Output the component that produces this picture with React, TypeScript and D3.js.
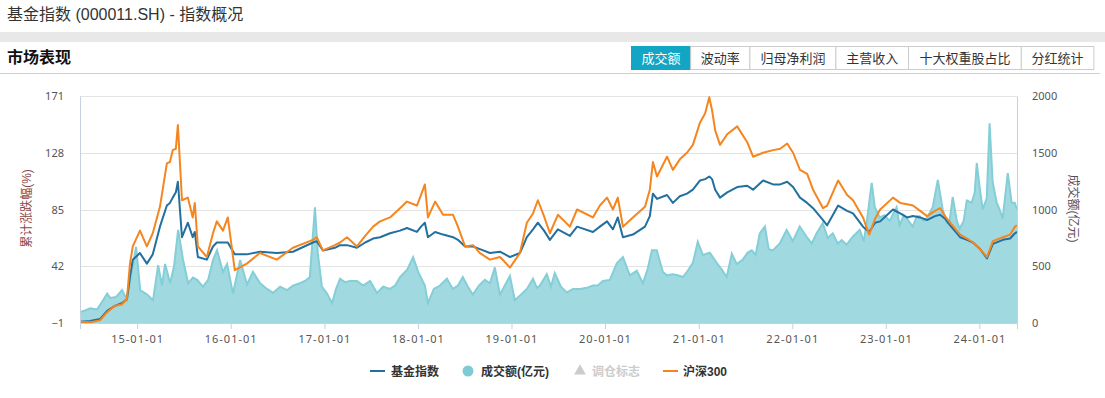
import React, { useEffect, useRef } from 'react';
import * as d3 from 'd3';

// 累计涨跌幅 (%) — 基金指数 / 沪深300
const lineDates = [
  '2014-05-23', '2014-07-01', '2014-08-09', '2014-09-05', '2014-10-06', '2014-11-02', '2014-11-22', '2014-12-04',
  '2014-12-15', '2015-01-12', '2015-02-08', '2015-03-03', '2015-03-31', '2015-04-27', '2015-05-09', '2015-05-20',
  '2015-06-01', '2015-06-09', '2015-06-25', '2015-07-18', '2015-08-06', '2015-08-14', '2015-08-26', '2015-09-30',
  '2015-10-24', '2015-11-08', '2015-12-02', '2015-12-21', '2016-01-17', '2016-03-04', '2016-04-24', '2016-06-29',
  '2016-08-31', '2016-11-17', '2016-12-02', '2016-12-26', '2017-02-11', '2017-03-03', '2017-03-30', '2017-05-08',
  '2017-06-09', '2017-07-10', '2017-08-06', '2017-09-14', '2017-10-23', '2017-11-19', '2017-12-28', '2018-01-13',
  '2018-01-28', '2018-02-09', '2018-03-09', '2018-04-09', '2018-05-18', '2018-06-06', '2018-07-04', '2018-08-04',
  '2018-08-31', '2018-10-09', '2018-11-17', '2018-12-07', '2018-12-26', '2019-02-03', '2019-03-02', '2019-03-26',
  '2019-04-14', '2019-05-08', '2019-05-31', '2019-07-01', '2019-08-17', '2019-09-14', '2019-11-15', '2019-12-12',
  '2020-01-09', '2020-02-01', '2020-02-20', '2020-03-11', '2020-04-19', '2020-06-05', '2020-06-24', '2020-07-06',
  '2020-07-22', '2020-08-30', '2020-09-22', '2020-10-19', '2020-11-16', '2020-12-09', '2021-01-06', '2021-01-26',
  '2021-02-11', '2021-02-22', '2021-03-06', '2021-03-25', '2021-04-22', '2021-05-31', '2021-07-09', '2021-08-01',
  '2021-09-09', '2021-10-18', '2021-11-15', '2021-12-12', '2022-01-04', '2022-01-31', '2022-02-28', '2022-03-23',
  '2022-05-01', '2022-05-17', '2022-06-29', '2022-08-03', '2022-08-26', '2022-10-04', '2022-10-28', '2022-11-20',
  '2022-12-10', '2023-01-29', '2023-02-26', '2023-03-25', '2023-04-17', '2023-05-15', '2023-06-11', '2023-07-12',
  '2023-08-01', '2023-08-20', '2023-09-09', '2023-10-18', '2023-11-14', '2023-12-07', '2024-01-04', '2024-01-31',
  '2024-02-23', '2024-04-02', '2024-04-30', '2024-05-19', '2024-05-27',
];

const fundIndex = [
  0, 0.5, 2, 8, 12, 14, 17, 34,
  47, 52, 44, 51, 72, 88, 90, 94,
  98, 106, 64, 75, 64, 68, 49, 47,
  57, 60, 60, 60, 51, 51, 53, 52,
  53, 60, 61, 54, 56, 58, 58, 56,
  60, 63, 64, 67, 69, 71, 68, 72,
  75, 64, 68, 66, 64, 62, 57, 57,
  55, 52, 53, 51, 49, 52, 64, 70,
  75, 69, 62, 70, 65, 72, 68, 72,
  76, 70, 79, 64, 66, 72, 80, 97,
  93, 96, 90, 95, 97, 100, 107, 108,
  110, 108, 100, 94, 98, 102, 103, 100,
  107, 104, 104, 106, 102, 94, 90, 86,
  77, 73, 88, 84, 82, 72, 68, 75,
  76, 85, 82, 79, 80, 79, 77, 80,
  81, 78, 73, 64, 62, 60, 55, 48,
  59, 62, 63, 67, 68,
];

const hs300 = [
  0, -0.5, 1, 7, 12, 13, 17, 44,
  57, 69, 57, 67, 87, 120, 121, 130,
  131, 149, 92, 94, 79, 90, 57, 49,
  67, 76, 69, 79, 39, 44, 52, 47,
  56, 62, 64, 54, 58, 60, 64, 57,
  65, 72, 76, 79, 86, 91, 88, 96,
  104, 79, 91, 81, 81, 72, 57, 58,
  52, 47, 49, 45, 41, 52, 75, 82,
  92, 80, 67, 81, 72, 85, 79, 88,
  94, 85, 94, 72, 79, 87, 100, 121,
  110, 125, 115, 123, 128, 134, 151, 158,
  170, 160, 145, 134, 142, 148, 136, 125,
  128, 130, 131, 135, 128, 115, 112, 100,
  86, 88, 107, 96, 92, 79, 66, 78,
  85, 94, 90, 89, 88, 84, 80, 84,
  86, 80, 75, 66, 63, 60, 55, 49,
  61, 64, 66, 72, 73,
];

// 成交额 (亿元)
const volDates = [
  '2014-05-23', '2014-06-12', '2014-07-02', '2014-07-29', '2014-08-21', '2014-09-06', '2014-09-18', '2014-10-11',
  '2014-11-03', '2014-11-23', '2014-12-12', '2014-12-28', '2015-01-13', '2015-02-09', '2015-03-04', '2015-03-24',
  '2015-04-08', '2015-04-20', '2015-05-10', '2015-05-25', '2015-06-10', '2015-06-29', '2015-07-19', '2015-08-07',
  '2015-08-23', '2015-09-15', '2015-10-05', '2015-10-24', '2015-11-09', '2015-12-02', '2015-12-18', '2016-01-10',
  '2016-02-07', '2016-03-05', '2016-03-28', '2016-04-25', '2016-05-22', '2016-06-14', '2016-07-12', '2016-08-08',
  '2016-08-31', '2016-09-27', '2016-10-17', '2016-11-05', '2016-11-25', '2016-12-06', '2016-12-22', '2017-01-11',
  '2017-01-31', '2017-02-15', '2017-03-03', '2017-03-22', '2017-04-11', '2017-05-08', '2017-06-01', '2017-06-28',
  '2017-07-25', '2017-08-18', '2017-09-14', '2017-10-04', '2017-10-23', '2017-11-20', '2017-12-13', '2018-01-02',
  '2018-01-28', '2018-02-09', '2018-03-04', '2018-03-28', '2018-04-24', '2018-05-17', '2018-06-06', '2018-06-25',
  '2018-07-15', '2018-08-03', '2018-08-27', '2018-09-19', '2018-10-09', '2018-10-28', '2018-11-17', '2018-12-06',
  '2018-12-26', '2019-01-14', '2019-02-07', '2019-03-02', '2019-03-26', '2019-04-10', '2019-04-22', '2019-05-19',
  '2019-06-04', '2019-06-19', '2019-07-13', '2019-08-05', '2019-08-29', '2019-09-25', '2019-10-22', '2019-11-15',
  '2019-12-04', '2019-12-24', '2020-01-20', '2020-02-16', '2020-03-11', '2020-04-07', '2020-05-04', '2020-05-28',
  '2020-06-16', '2020-07-02', '2020-07-21', '2020-08-14', '2020-08-29', '2020-09-22', '2020-10-11', '2020-10-31',
  '2020-11-19', '2020-12-09', '2020-12-28', '2021-01-17', '2021-02-13', '2021-03-12', '2021-04-01', '2021-04-20',
  '2021-05-10', '2021-05-29', '2021-06-22', '2021-07-11', '2021-07-27', '2021-08-11', '2021-08-27', '2021-09-16',
  '2021-10-01', '2021-10-17', '2021-11-13', '2021-12-10', '2022-01-03', '2022-01-30', '2022-02-26', '2022-03-18',
  '2022-04-06', '2022-04-30', '2022-05-19', '2022-06-08', '2022-06-27', '2022-07-13', '2022-08-01', '2022-08-25',
  '2022-09-21', '2022-10-07', '2022-10-18', '2022-11-07', '2022-11-19', '2022-12-08', '2022-12-27', '2023-01-16',
  '2023-02-12', '2023-02-24', '2023-03-12', '2023-03-24', '2023-04-16', '2023-05-02', '2023-05-13', '2023-05-29',
  '2023-06-10', '2023-07-03', '2023-07-23', '2023-08-11', '2023-08-27', '2023-09-07', '2023-09-19', '2023-10-05',
  '2023-10-16', '2023-11-01', '2023-11-13', '2023-12-02', '2023-12-14', '2023-12-22', '2024-01-02', '2024-01-14',
  '2024-01-30', '2024-02-10', '2024-02-22', '2024-03-09', '2024-03-20', '2024-04-01', '2024-04-21', '2024-05-06',
  '2024-05-18', '2024-05-27',
];

const volume = [
  97, 110, 130, 120, 200, 260, 220, 230,
  290, 200, 470, 670, 290, 250, 200, 510,
  330, 520, 350, 500, 820, 560, 350, 400,
  380, 320, 380, 555, 640, 450, 520, 260,
  555, 340, 450, 350, 300, 265, 320, 290,
  330, 350, 370, 405, 1020, 620, 320, 260,
  175, 300, 390, 360, 370, 370, 330, 370,
  265, 320, 300, 330, 405, 470, 580, 450,
  330, 175, 300, 330, 390, 300, 330, 405,
  320, 250, 330, 380, 350, 490, 250, 330,
  415, 200, 250, 300, 390, 310, 330, 430,
  320, 440, 320, 270, 300, 300, 310, 330,
  330, 370, 380, 525, 580, 420, 460, 350,
  480, 640, 640, 450, 420, 430, 420, 405,
  460, 530, 715, 600, 620, 530, 470, 405,
  610, 520, 560, 620, 640, 600, 790, 850,
  650, 640, 700, 820, 720, 850, 760, 700,
  790, 880, 750, 790, 700, 730, 690, 760,
  820, 720, 880, 1235, 1020, 930, 950, 900,
  1020, 860, 950, 920, 850, 940, 940, 900,
  920, 1020, 1260, 1000, 880, 900, 1110, 900,
  830, 900, 1080, 1060, 1150, 1410, 1200, 1000,
  1100, 1760, 1240, 1060, 1000, 920, 1320, 1060,
  1060, 1000,
];

const leftTicks = [-1, 42, 85, 128, 171];
const rightTicks = [0, 500, 1000, 1500, 2000];
const tabs = ['成交额', '波动率', '归母净利润', '主营收入', '十大权重股占比', '分红统计'];

const BLUE = '#22709e';
const ORANGE = '#f5851f';
const TEAL_FILL = '#a1d9e1';
const TEAL_LINE = '#84ced7';
const CJK = "'Liberation Sans', 'Noto Sans CJK SC', sans-serif";

const App = () => {
  const ref = useRef<SVGSVGElement>(null);

  useEffect(() => {
    const width = 1105;
    const height = 398;
    const margin = { top: 96, right: 88, bottom: 75, left: 80 };
    const plotW = width - margin.left - margin.right;
    const plotH = height - margin.top - margin.bottom;

    const svg = d3.select(ref.current);
    svg.selectAll('*').remove();

    // page header
    svg.append('text').attr('x', 7).attr('y', 20)
      .attr('font-family', CJK).attr('font-size', 16).attr('fill', '#333')
      .text('基金指数 (000011.SH) - 指数概况');
    svg.append('rect').attr('x', 0).attr('y', 32).attr('width', width).attr('height', 10).attr('fill', '#e8e8e8');
    svg.append('text').attr('x', 7).attr('y', 63)
      .attr('font-family', CJK).attr('font-size', 16).attr('font-weight', 'bold').attr('fill', '#111')
      .text('市场表现');
    svg.append('line').attr('x1', 0).attr('x2', 1100).attr('y1', 73.5).attr('y2', 73.5)
      .attr('stroke', '#cfcfcf');

    // tabs
    let tx = 631;
    tabs.forEach((t, i) => {
      const w = t.length * 13.4 + 19;
      const g = svg.append('g').attr('transform', `translate(${tx},46)`);
      g.append('rect').attr('x', 0.5).attr('y', 0.5).attr('width', w).attr('height', 23)
        .attr('fill', i === 0 ? '#13a5c4' : '#fff').attr('stroke', i === 0 ? '#13a5c4' : '#cccccc');
      g.append('text').attr('x', w / 2 + 0.5).attr('y', 17).attr('text-anchor', 'middle')
        .attr('font-family', CJK).attr('font-size', 13)
        .attr('fill', i === 0 ? '#fff' : '#333').text(t);
      tx += w;
    });

    const parse = d3.timeParse('%Y-%m-%d');
    const lineData = lineDates.map((d, i) => ({ date: parse(d)!, fund: fundIndex[i], hs: hs300[i] }));
    const volData = volDates.map((d, i) => ({ date: parse(d)!, v: volume[i] }));

    const x = d3.scaleTime()
      .domain([parse('2014-05-23')!, parse('2024-05-27')!])
      .range([margin.left, margin.left + plotW]);
    const yL = d3.scaleLinear().domain([-1, 171]).range([margin.top + plotH, margin.top]);
    const yR = d3.scaleLinear().domain([0, 2000]).range([margin.top + plotH, margin.top]);

    svg.append('clipPath').attr('id', 'plot-clip').append('rect')
      .attr('x', margin.left).attr('y', margin.top - 2).attr('width', plotW).attr('height', plotH + 2);

    // grid lines
    svg.append('g').selectAll('line').data(leftTicks).enter().append('line')
      .attr('x1', margin.left).attr('x2', margin.left + plotW)
      .attr('y1', d => Math.round(yL(d)) + 0.5).attr('y2', d => Math.round(yL(d)) + 0.5)
      .attr('stroke', '#e3e3e3');

    const plot = svg.append('g').attr('clip-path', 'url(#plot-clip)');

    // volume area
    const area = d3.area<{ date: Date; v: number }>()
      .x(d => x(d.date)).y0(yR(0)).y1(d => yR(d.v));
    plot.append('path').datum(volData).attr('d', area).attr('fill', TEAL_FILL);
    const volLine = d3.line<{ date: Date; v: number }>().x(d => x(d.date)).y(d => yR(d.v));
    plot.append('path').datum(volData).attr('d', volLine)
      .attr('fill', 'none').attr('stroke', TEAL_LINE).attr('stroke-width', 2);

    const lineFund = d3.line<{ date: Date; fund: number; hs: number }>()
      .x(d => x(d.date)).y(d => yL(d.fund));
    const lineHs = d3.line<{ date: Date; fund: number; hs: number }>()
      .x(d => x(d.date)).y(d => yL(d.hs));
    plot.append('path').datum(lineData).attr('d', lineFund)
      .attr('fill', 'none').attr('stroke', BLUE).attr('stroke-width', 2).attr('stroke-linejoin', 'round');
    plot.append('path').datum(lineData).attr('d', lineHs)
      .attr('fill', 'none').attr('stroke', ORANGE).attr('stroke-width', 2).attr('stroke-linejoin', 'round');

    // axes
    const axisColor = '#c6d1e0';
    const xAxis = svg.append('g').attr('transform', `translate(0,${margin.top + plotH})`)
      .call(d3.axisBottom(x).ticks(d3.timeYear.every(1)).tickFormat(d3.timeFormat('%y-%m-%d') as any)
        .tickSize(6).tickPadding(6));
    xAxis.select('.domain').attr('stroke', axisColor);
    xAxis.selectAll('.tick line').attr('stroke', axisColor);
    xAxis.selectAll('.tick text').attr('fill', '#555').attr('font-size', 11)
      .attr('font-family', "'Noto Sans', sans-serif").attr('letter-spacing', 1);

    const lAxis = svg.append('g').attr('transform', `translate(${margin.left},0)`)
      .call(d3.axisLeft(yL).tickValues(leftTicks).tickSize(0).tickPadding(16));
    lAxis.select('.domain').attr('stroke', axisColor);
    lAxis.selectAll('.tick text').attr('fill', '#555').attr('font-size', 11)
      .attr('font-family', "'Noto Sans', sans-serif");

    const rAxis = svg.append('g').attr('transform', `translate(${margin.left + plotW},0)`)
      .call(d3.axisRight(yR).tickValues(rightTicks).tickFormat(d3.format('d') as any).tickSize(0).tickPadding(15));
    rAxis.select('.domain').attr('stroke', axisColor);
    rAxis.selectAll('.tick text').attr('fill', '#555').attr('font-size', 11)
      .attr('font-family', "'Noto Sans', sans-serif");

    // axis titles
    svg.append('text').attr('transform', `translate(31,${margin.top + plotH / 2 - 1}) rotate(-90)`)
      .attr('text-anchor', 'middle').attr('font-family', CJK).attr('font-size', 12).attr('fill', '#8a4848')
      .text('累计涨跌幅(%)');
    svg.append('text').attr('transform', `translate(1069,${margin.top + plotH / 2 - 1}) rotate(90)`)
      .attr('text-anchor', 'middle').attr('font-family', CJK).attr('font-size', 12).attr('fill', '#5a4d55')
      .text('成交额(亿元)');

    // legend
    const ly = 371;
    const leg = svg.append('g').attr('font-family', CJK).attr('font-size', 12).attr('font-weight', 'bold');
    leg.append('line').attr('x1', 370).attr('x2', 385).attr('y1', ly).attr('y2', ly)
      .attr('stroke', BLUE).attr('stroke-width', 2);
    leg.append('text').attr('x', 391).attr('y', ly + 4.5).attr('fill', '#333').text('基金指数');
    leg.append('circle').attr('cx', 468).attr('cy', ly).attr('r', 5.5).attr('fill', '#7fcbd5');
    leg.append('text').attr('x', 481).attr('y', ly + 4.5).attr('fill', '#333').text('成交额(亿元)');
    leg.append('path').attr('d', d3.symbol().type(d3.symbolTriangle).size(60)()!)
      .attr('transform', `translate(580,${ly})`).attr('fill', '#cccccc');
    leg.append('text').attr('x', 592).attr('y', ly + 4.5).attr('fill', '#cccccc').text('调仓标志');
    leg.append('line').attr('x1', 663).attr('x2', 678).attr('y1', ly).attr('y2', ly)
      .attr('stroke', ORANGE).attr('stroke-width', 2);
    leg.append('text').attr('x', 683).attr('y', ly + 4.5).attr('fill', '#333').text('沪深300');
  }, []);

  return (
    <div style={{ position: 'absolute', left: 0, top: 0 }}>
      <svg ref={ref} width={1105} height={398} style={{ display: 'block', background: '#fff' }} />
    </div>
  );
};

export default App;
